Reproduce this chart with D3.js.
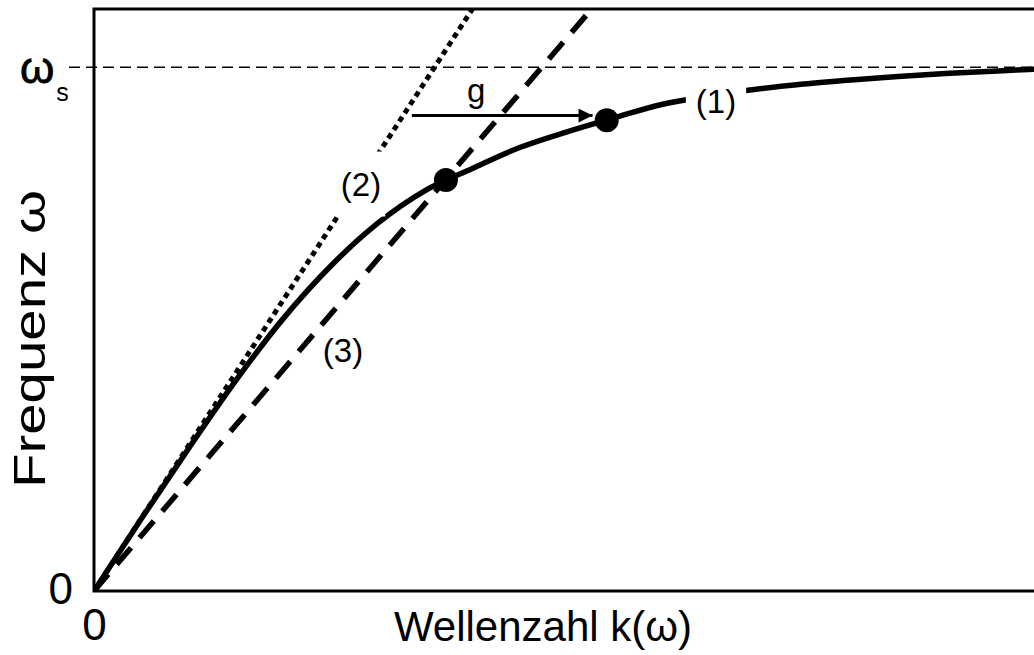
<!DOCTYPE html>
<html>
<head>
<meta charset="utf-8">
<script src="https://cdn.jsdelivr.net/npm/d3@7"></script>
<style>
  body { margin: 0; background: #fff; }
  svg { display: block; }
  text { font-family: "Liberation Sans", Arial, Helvetica, sans-serif; fill: #000; }
</style>
</head>
<body>
<svg id="chart" width="1034" height="655"></svg>
<script>
// Dispersion relation ω(k): wave number and frequency samples of curve (1)
const waveNumber = [0, 0.5, 1, 1.5, 2, 2.5, 3, 3.5, 4, 4.5, 5, 5.5, 6, 6.5, 7, 7.5, 8, 8.5, 9, 9.5, 10];
const frequency  = [0, 0.124, 0.245, 0.362, 0.468, 0.558, 0.632, 0.688, 0.726, 0.762, 0.789, 0.813,
                    0.836, 0.850, 0.862, 0.871, 0.878, 0.884, 0.889, 0.893, 0.897];

// Saturation frequency ω_s
const omegaSat = 0.9;

// Line (2): initial slope through the origin
const line2K = [0, 4.0];
const line2Omega = [0, 1.0];

// Line (3): through the origin and the lower marked point
const line3K = [0, 5.26];
const line3Omega = [0, 1.0];

// Marked points on the curve
const markerK = [3.72, 5.42];
const markerOmega = [0.706, 0.809];

// Arrow g: from line (2) to the upper marked point
const arrowK = [3.36, 5.27];
const arrowOmega = [0.817, 0.817];

// Axis ticks
const xTickValues = [0];
const xTickLabels = ["0"];
const yTickValues = [0, omegaSat];

const svg = d3.select("#chart");
const frameL = 94, frameT = 9, frameB = 591, frameR = 1040;

const x = d3.scaleLinear().domain([0, 10]).range([frameL, frameR]);
const y = d3.scaleLinear().domain([0, 1]).range([frameB, frameT]);

const defs = svg.append("defs");
defs.append("clipPath").attr("id", "plot")
  .append("rect").attr("x", frameL).attr("y", frameT)
  .attr("width", frameR - frameL).attr("height", frameB - frameT);

// ω_s reference line (extends past the left frame edge)
svg.append("line")
  .attr("x1", frameL - 25).attr("x2", frameR)
  .attr("y1", y(omegaSat)).attr("y2", y(omegaSat))
  .attr("stroke", "#000").attr("stroke-width", 1.6)
  .attr("stroke-dasharray", "11 6");

const plot = svg.append("g").attr("clip-path", "url(#plot)");
const straight = d3.line().x(d => x(d[0])).y(d => y(d[1]));
const smooth = d3.line().x(d => x(d[0])).y(d => y(d[1])).curve(d3.curveMonotoneX);

// Line (3): dashed
plot.append("path")
  .datum(d3.zip(line3K, line3Omega))
  .attr("d", straight)
  .attr("fill", "none").attr("stroke", "#000").attr("stroke-width", 5.5)
  .attr("stroke-dasharray", "22 13");

// Line (2): dotted
plot.append("path")
  .datum(d3.zip(line2K, line2Omega))
  .attr("d", straight)
  .attr("fill", "none").attr("stroke", "#000").attr("stroke-width", 5)
  .attr("stroke-dasharray", "5.5 4.5");

// Curve (1): solid
plot.append("path")
  .datum(d3.zip(waveNumber, frequency))
  .attr("d", smooth)
  .attr("fill", "none").attr("stroke", "#000").attr("stroke-width", 5.5)
  .attr("stroke-linecap", "round");

// Markers
plot.selectAll("circle.marker")
  .data(d3.zip(markerK, markerOmega))
  .join("circle")
  .attr("class", "marker")
  .attr("cx", d => x(d[0])).attr("cy", d => y(d[1]))
  .attr("r", 12).attr("fill", "#000");

// Arrow g
defs.append("marker")
  .attr("id", "head").attr("viewBox", "0 0 10 10")
  .attr("refX", 10).attr("refY", 5)
  .attr("markerUnits", "userSpaceOnUse")
  .attr("markerWidth", 24).attr("markerHeight", 14)
  .attr("orient", "auto")
  .append("path").attr("d", "M0,0 L10,5 L0,10 Z").attr("fill", "#000");

svg.append("path")
  .datum(d3.zip(arrowK, arrowOmega))
  .attr("d", straight)
  .attr("stroke", "#000").attr("stroke-width", 3).attr("fill", "none")
  .attr("marker-end", "url(#head)");

svg.append("text")
  .attr("x", x((arrowK[0] + arrowK[1]) / 2) - 26).attr("y", y(arrowOmega[0]) - 14)
  .attr("text-anchor", "middle").attr("font-size", 33).text("g");

// Curve labels, each on a white patch that interrupts the line beneath
function curveLabel(txt, cx, cy, padX, padY) {
  const g = svg.append("g");
  const t = g.append("text").attr("x", cx).attr("y", cy)
    .attr("text-anchor", "middle").attr("dominant-baseline", "central")
    .attr("font-size", 33).text(txt);
  const b = t.node().getBBox();
  g.insert("rect", "text")
    .attr("x", b.x - padX).attr("y", b.y - padY)
    .attr("width", b.width + 2 * padX).attr("height", b.height + 2 * padY)
    .attr("fill", "#fff");
}
curveLabel("(1)", 716, 101, 10, 4);
curveLabel("(2)", 361, 184, 4, 14);
curveLabel("(3)", 343, 350, 0, 0);

// Frame
svg.append("rect")
  .attr("x", frameL).attr("y", frameT)
  .attr("width", frameR - frameL).attr("height", frameB - frameT)
  .attr("fill", "none").attr("stroke", "#000").attr("stroke-width", 3);

// Axes: only the origin and ω_s are labelled
const xAxis = svg.append("g")
  .attr("transform", `translate(0,${frameB})`)
  .call(d3.axisBottom(x).tickValues(xTickValues).tickSize(0)
        .tickFormat((d, i) => xTickLabels[i]));
xAxis.select(".domain").remove();
xAxis.selectAll("text").attr("font-size", 44).attr("dy", "0.71em").attr("y", 18)
  .attr("font-family", "Liberation Sans, Arial, sans-serif");

const yAxis = svg.append("g")
  .attr("transform", `translate(${frameL},0)`)
  .call(d3.axisLeft(y).tickValues(yTickValues).tickSize(0).tickFormat(""));
yAxis.select(".domain").remove();
yAxis.selectAll(".tick text").each(function (d) {
  const t = d3.select(this)
    .attr("font-family", "Liberation Sans, Arial, sans-serif");
  if (d === 0) {
    t.attr("font-size", 44).attr("x", -21).attr("text-anchor", "end")
     .attr("dy", "12px").text("0");
  } else {
    t.attr("font-size", 44).attr("x", -74).attr("text-anchor", "start")
     .attr("dy", "15px");
    t.append("tspan").attr("stroke", "#000").attr("stroke-width", 0.8).text("ω");
    t.append("tspan").attr("font-size", 25).attr("dx", 2).attr("dy", 18).text("s");
  }
});

// Axis titles
svg.append("text")
  .attr("x", 543).attr("y", 641)
  .attr("text-anchor", "middle").attr("font-size", 42)
  .text("Wellenzahl k(ω)");

svg.append("text")
  .attr("transform", `translate(45,${339}) rotate(-90)`)
  .attr("text-anchor", "middle").attr("font-size", 44)
  .attr("textLength", 298).attr("lengthAdjust", "spacingAndGlyphs")
  .text("Frequenz ω");
</script>
</body>
</html>
